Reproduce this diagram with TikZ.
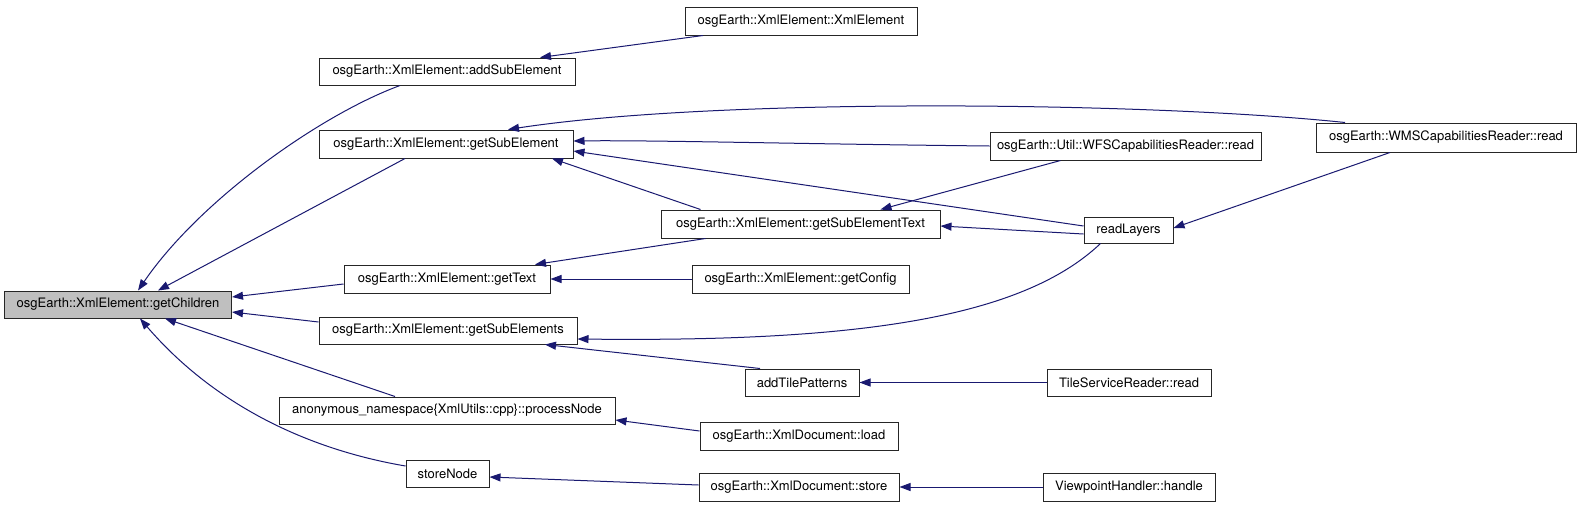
\documentclass[tikz,border=0pt]{standalone}
\usepackage{fontspec}
\setmainfont{TeX Gyre Heros}
\usetikzlibrary{arrows.meta}
\definecolor{edgeblue}{HTML}{191970}
\definecolor{hlgray}{HTML}{BFBFBF}
\begin{document}
\begin{tikzpicture}[x=1pt,y=-1pt,
  fn/.style={draw=black!85,line width=1pt,inner sep=0pt,minimum height=27pt,fill=white,
    font=\fontsize{13}{15}\selectfont},
  edge/.style={draw=edgeblue,line width=1pt,-{Triangle[length=11pt,width=8pt]},fill=none},
]
\useasboundingbox (0,0) rectangle (1584,509);
% nodes
\node[fn,fill=hlgray,minimum width=227pt] (gc) at (118,304.5) {osgEarth::XmlElement::getChildren};
\node[fn,minimum width=256pt] (addsub) at (447,71.5) {osgEarth::XmlElement::addSubElement};
\node[fn,minimum width=232pt,minimum height=28pt] (xmlel) at (801,21) {osgEarth::XmlElement::XmlElement};
\node[fn,minimum width=254pt,minimum height=28pt] (getsub) at (446,144) {osgEarth::XmlElement::getSubElement};
\node[fn,minimum width=271pt,minimum height=28pt] (wfs) at (1125.5,146) {osgEarth::Util::WFSCapabilitiesReader::read};
\node[fn,minimum width=260pt,minimum height=29pt] (wms) at (1446,137.5) {osgEarth::WMSCapabilitiesReader::read};
\node[fn,minimum width=279pt,minimum height=28pt] (gst) at (800.5,224) {osgEarth::XmlElement::getSubElementText};
\node[fn,minimum width=89pt,minimum height=26pt] (rl) at (1128.5,230) {readLayers};
\node[fn,minimum width=206pt,minimum height=28pt] (gt) at (447,279) {osgEarth::XmlElement::getText};
\node[fn,minimum width=217pt,minimum height=28pt] (gcfg) at (800.5,279) {osgEarth::XmlElement::getConfig};
\node[fn,minimum width=258pt] (gsubs) at (448,330.5) {osgEarth::XmlElement::getSubElements};
\node[fn,minimum width=114pt] (atp) at (802,382.5) {addTilePatterns};
\node[fn,minimum width=164pt] (tsr) at (1129,382.5) {TileServiceReader::read};
\node[fn,minimum width=336pt] (pn) at (447,410.5) {anonymous\_namespace\{XmlUtils::cpp\}::processNode};
\node[fn,minimum width=198pt,minimum height=28pt] (load) at (799,436) {osgEarth::XmlDocument::load};
\node[fn,minimum width=83pt] (sn) at (447.5,473.5) {storeNode};
\node[fn,minimum width=200pt,minimum height=28pt] (store) at (799,487) {osgEarth::XmlDocument::store};
\node[fn,minimum width=172pt,minimum height=28pt] (vh) at (1129,487) {ViewpointHandler::handle};
% edges (caller -> callee)
\draw[edge] ([xshift=-47pt]addsub.south) .. controls (320,115) and (200,200) .. ([xshift=20pt]gc.north);
\draw[edge] ([xshift=-41pt]getsub.south) -- ([xshift=40pt]gc.north);
\draw[edge] ([yshift=-5pt]gt.west) -- ([yshift=7.5pt]gc.east);
\draw[edge] ([yshift=8.5pt]gsubs.west) -- ([yshift=-7.5pt]gc.east);
\draw[edge] ([xshift=-52pt]pn.north) -- ([xshift=47pt]gc.south);
\draw[edge] ([yshift=7.5pt]sn.west) .. controls (300,448) and (210,400) .. ([xshift=22pt]gc.south);
\draw[edge] ([xshift=-98pt]xmlel.south) -- ([xshift=93pt]addsub.north);
\draw[edge] ([xshift=-101pt]wms.north) .. controls (1150,102) and (720,97) .. ([xshift=62pt]getsub.north);
\draw[edge] (wfs.west) .. controls (800,144) and (650,140) .. ([yshift=3pt]getsub.east);
\draw[edge] ([yshift=4pt]rl.west) -- ([yshift=-7pt]getsub.east);
\draw[edge] ([xshift=-100pt]gst.north) -- ([xshift=106pt]getsub.south);
\draw[edge] ([xshift=-65pt]wfs.south) -- ([xshift=80pt]gst.north);
\draw[edge] ([yshift=-4pt]rl.west) -- ([yshift=-2pt]gst.east);
\draw[edge] ([xshift=-56pt]wms.south) -- ([yshift=2pt]rl.east);
\draw[edge] ([xshift=-95pt]gst.south) -- ([xshift=88pt]gt.north);
\draw[edge] (gcfg.west) -- (gt.east);
\draw[edge] ([xshift=-28pt]rl.south) .. controls (1020,320) and (850,342) .. ([yshift=-8.5pt]gsubs.east);
\draw[edge] ([xshift=-42pt]atp.north) -- ([xshift=97pt]gsubs.south);
\draw[edge] (tsr.west) -- (atp.east);
\draw[edge] ([yshift=5pt]load.west) -- ([yshift=-9.5pt]pn.east);
\draw[edge] ([yshift=2pt]store.west) -- ([yshift=-3.5pt]sn.east);
\draw[edge] (vh.west) -- (store.east);
\end{tikzpicture}
\end{document}
